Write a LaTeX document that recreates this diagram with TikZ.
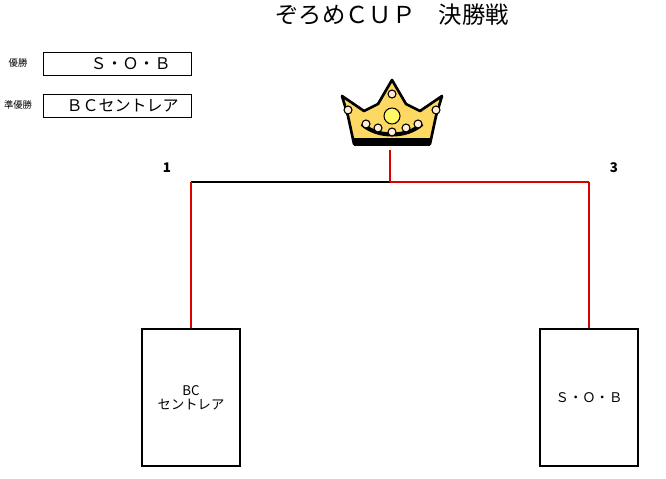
\documentclass[tikz,border=0pt]{standalone}
\usepackage{fontspec}
\setmainfont{Noto Sans CJK JP}
\usetikzlibrary{positioning}
\tikzset{%
	team/.style={draw, line width=1.5pt, rectangle, minimum width=74pt, minimum height=103pt, font=\fontsize{10}{11}\selectfont, align=center},
	result/.style={draw, rectangle, minimum width=111pt, minimum height=17pt, font=\fontsize{12}{12}\selectfont},
	caption/.style={font=\fontsize{7}{7}\selectfont},
	seed/.style={font=\bfseries\fontsize{10}{10}\selectfont},
	win/.style={red!85!black, thick},
	lose/.style={black, thick},
	pearl/.style={draw, fill=orange!15, line width=0.8pt}
}
\begin{document}
\begin{tikzpicture}[x=0.75pt, y=-0.75pt]
	\useasboundingbox (0,0) rectangle (666,478);

	%title
	\node[font=\fontsize{17.5}{17.5}\selectfont] (title) at (392,15) {ぞろめＣＵＰ　決勝戦};

	%results
	\node[result, anchor=north west] (first) at (43,52) {\hspace{20pt}Ｓ・Ｏ・Ｂ};
	\node[caption] (firstlbl) at (18,63) {優勝};
	\node[result, anchor=north west] (second) at (43,94) {\hspace{8pt}ＢＣセントレア};
	\node[caption] (secondlbl) at (18,105) {準優勝};

	%crown
	\begin{scope}[shift={(392,116)}]
		\filldraw[fill=yellow!55!orange!60, line width=2pt, line join=round]
			(-38,28) -- (-44,0) -- (-50,-20) -- (-28,-5) -- (-14,-12) -- (0,-36)
			-- (14,-12) -- (28,-5) -- (50,-20) -- (44,0) -- (38,28) -- cycle;
		\fill[black] (-38,22) rectangle (38,30);
		\draw[line width=3pt] (-30,8) .. controls (-15,22) and (15,22) .. (30,8);
		\node[pearl, circle, minimum size=12pt, inner sep=0pt, fill=yellow!60] (gem) at (0,0) {};
		\foreach \px/\py in {-44/-6, 44/-6, 0/-22, -14/12, 14/12, -26/8, 26/8, 0/16}
			\node[pearl, circle, minimum size=6pt, inner sep=0pt] at (\px,\py) {};
	\end{scope}
	\coordinate (top) at (390,150);

	%bracket
	\node[team, anchor=north] (left) at (191,328) {BC\\セントレア};
	\node[team, anchor=north] (right) at (589,328) {Ｓ・Ｏ・Ｂ};
	\coordinate (mid) at (390,182);
	\coordinate (lc) at (191,182);
	\coordinate (rc) at (589,182);

	\draw[lose] (lc) -- (mid);
	\draw[win] (mid) -- (rc);
	\draw[win] (top) -- (mid);
	\draw[win] (left.north) -- (lc);
	\draw[win] (right.north) -- (rc);

	\node[seed] (s1) at (167,168) {1};
	\node[seed] (s3) at (614,168) {3};
\end{tikzpicture}
\end{document}
